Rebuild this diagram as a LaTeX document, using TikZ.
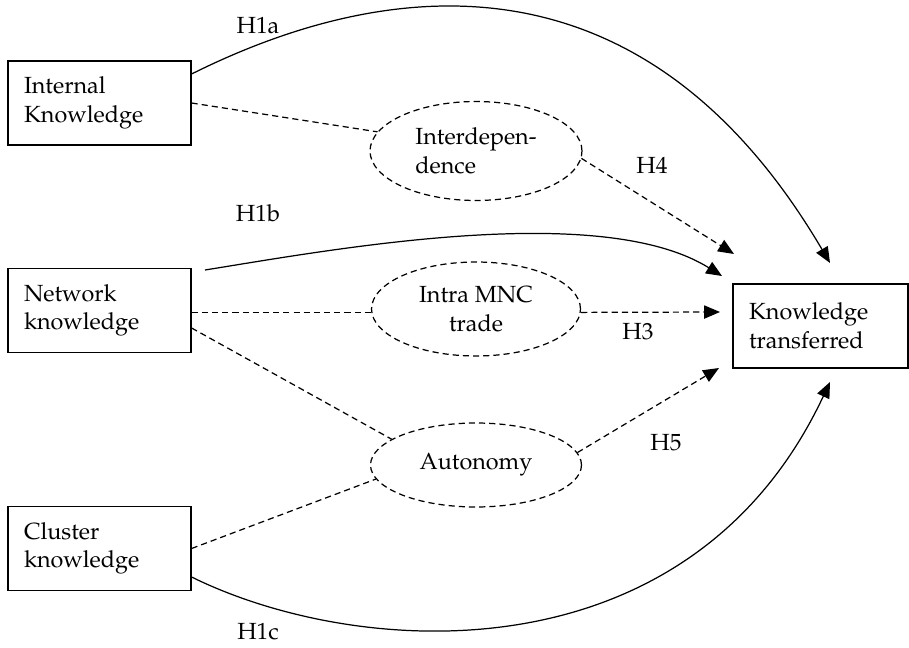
\documentclass[tikz,border=0pt]{standalone}
\usepackage[T1]{fontenc}
\usepackage{mathpazo}
\usetikzlibrary{shapes.geometric,arrows.meta}
\begin{document}
\begin{tikzpicture}[x=0.02cm,y=-0.02cm,line width=0.7pt,
  font=\fontsize{13.3}{16.2}\selectfont,
  knowbox/.style={rectangle,draw=black,align=left,inner xsep=0.32cm,minimum height=1.68cm},
  mediator/.style={ellipse,draw=black,dash pattern=on 3.5pt off 2.3pt,inner sep=0pt},
  link/.style={dash pattern=on 3.5pt off 2.3pt},
  hyp/.style={-{Triangle[length=9pt,width=7.5pt]}}]
\useasboundingbox (0,0) rectangle (909,648);
% Knowledge Boxes
\node at (99.5,103) [knowbox,text width=3.02cm] (Internal) {Internal\\Knowledge};
\node at (99.5,310.5) [knowbox,text width=3.02cm] (Network) {Network\\knowledge};
\node at (99.5,548.5) [knowbox,text width=3.02cm] (Cluster) {Cluster\\knowledge};
\node at (820.5,326) [knowbox,text width=2.86cm] (Transfer) {Knowledge\\transferred};
% Mediators
\node at (476,151) [mediator,minimum width=4.24cm,minimum height=1.98cm,align=left] (Interdep) {Interdepen-\\dence};
\node at (476,309) [mediator,minimum width=4.18cm,minimum height=1.88cm,align=center] (Intra) {Intra MNC\\trade};
\node at (476,465) [mediator,minimum width=4.22cm,minimum height=1.68cm] (Autonomy) {Autonomy};
% Arrow Ends
\coordinate (StartB) at (205,270);
\coordinate (TipA) at (830,263);
\coordinate (TipB) at (722,276);
\coordinate (TipC) at (830,382);
\coordinate (TipH4) at (734,254);
\coordinate (TipH3) at (720,312);
\coordinate (TipH5) at (719,368);
% Direct Effects
\draw [hyp] (Internal.east |- 0,74) .. controls (380,-20) and (640,-60) .. (TipA);
\draw [hyp] (StartB) .. controls (330,250) and (600,200) .. (TipB);
\draw [hyp] (Cluster.east |- 0,577) .. controls (360,660) and (690,680) .. (TipC);
% Mediated Effects
\draw [link] (Internal.east) -- (Interdep.169);
\draw [link] (Network.east |- 0,312.4) -- (Intra.west |- 0,312.4);
\draw [link] (Network.east |- 0,328) -- (Autonomy.163);
\draw [link] (Cluster.east) -- (Autonomy.188);
\draw [link,hyp] (Interdep.-4) -- (TipH4);
\draw [link,hyp] (Intra.east |- 0,312.4) -- (TipH3);
\draw [link,hyp] (Autonomy.7) -- (TipH5);
% Hypothesis Labels
\node at (258,25) (LabA) {H1a};
\node at (258,213) (LabB) {H1b};
\node at (258,632) (LabC) {H1c};
\node at (652,165) (LabH4) {H4};
\node at (638,332) (LabH3) {H3};
\node at (666,443) (LabH5) {H5};
\end{tikzpicture}
\end{document}
